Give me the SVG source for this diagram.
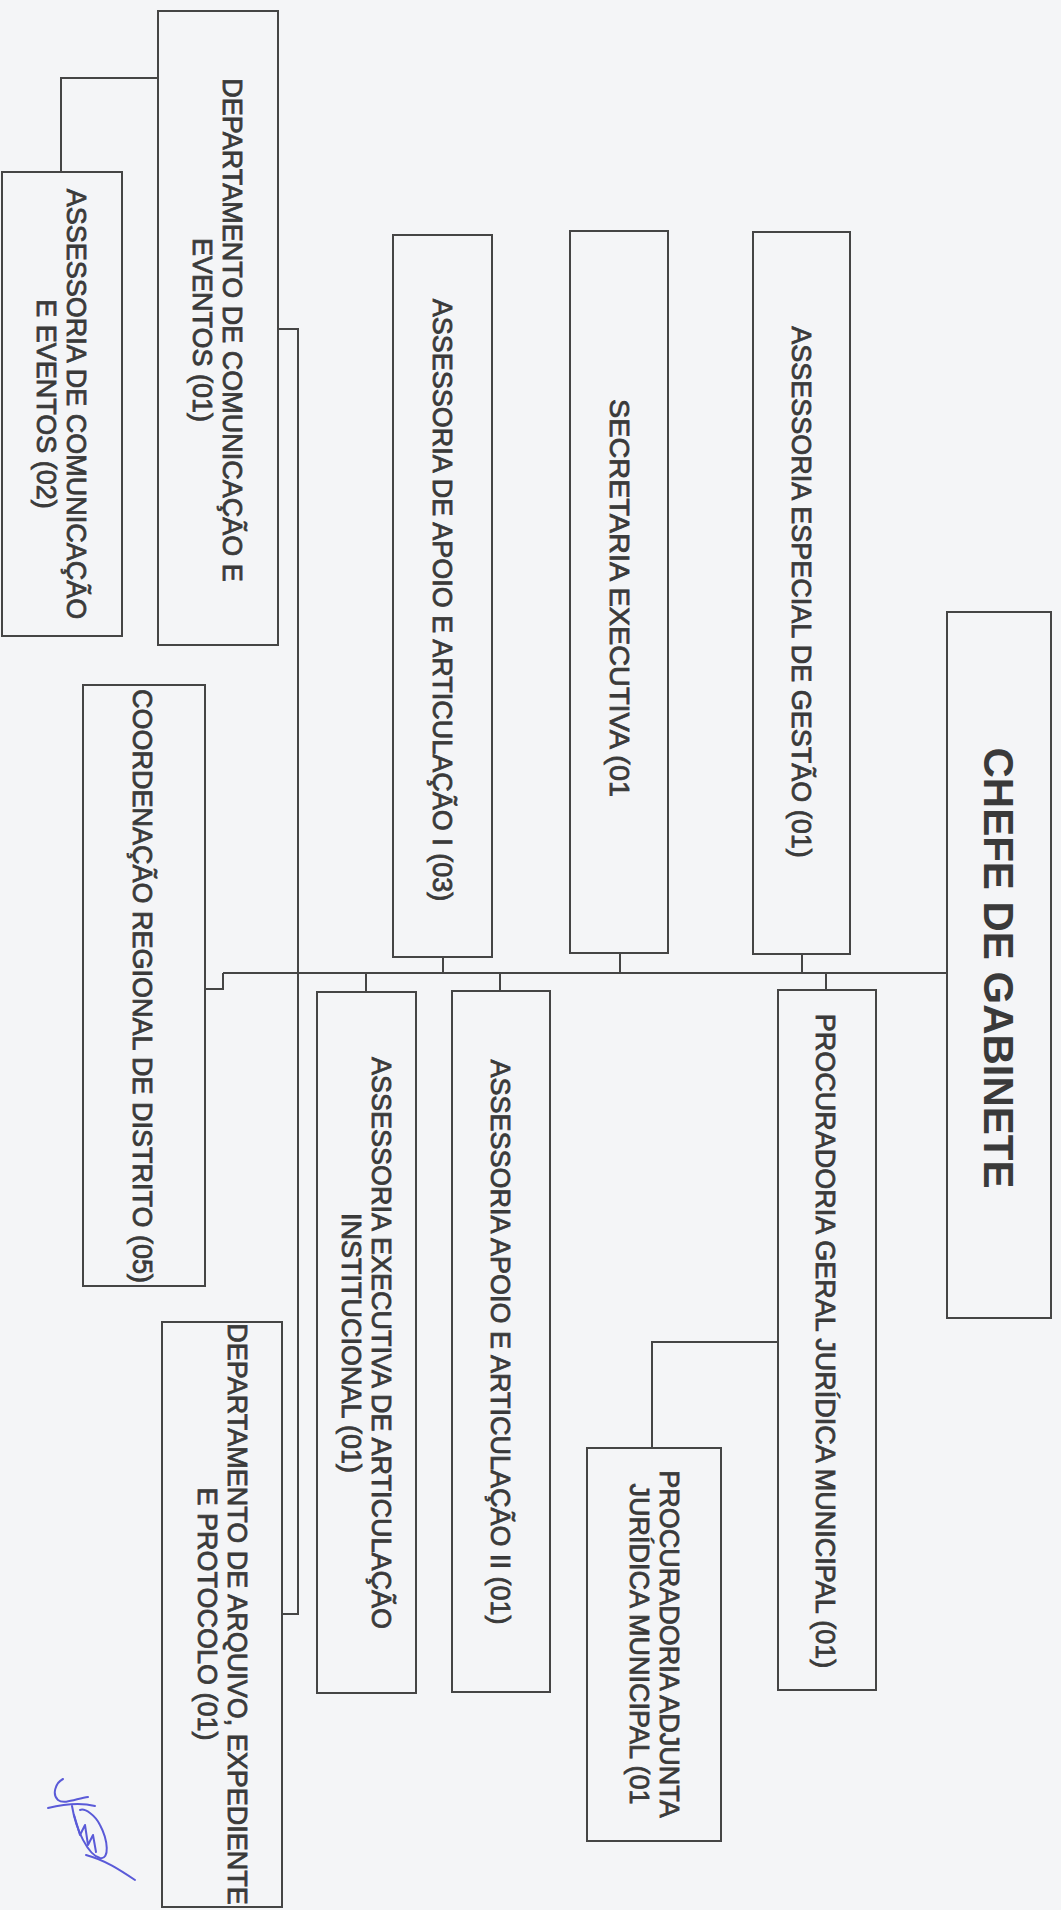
<svg xmlns="http://www.w3.org/2000/svg" width="1061" height="1910" viewBox="0 0 1061 1910">
<style>
.bg{fill:#f4f5f7}
.box{fill:none;stroke:#454545;stroke-width:2}
.con{fill:none;stroke:#454545;stroke-width:2}
.lbl{font-family:"Liberation Sans",Arial,sans-serif;font-size:27px;fill:#3a3a3a;stroke:#3a3a3a;stroke-width:0.8;text-anchor:middle}
.big{font-family:"Liberation Sans",Arial,sans-serif;font-size:42px;font-weight:bold;fill:#3a3a3a;text-anchor:middle}
.sig{fill:none;stroke:#5a5ad8;stroke-width:2;stroke-linecap:round;stroke-linejoin:round}
</style>
<rect class="bg" x="0" y="0" width="1061" height="1910"/>

<g id="connectors">
  <path class="con" d="M223,973 H947"/>
  <path class="con" d="M205,989 H223 V973"/>
  <path class="con" d="M443,957 V973"/>
  <path class="con" d="M620,953 V973"/>
  <path class="con" d="M802,954 V973"/>
  <path class="con" d="M366,973 V992"/>
  <path class="con" d="M500,973 V991"/>
  <path class="con" d="M826,973 V990"/>
  <path class="con" d="M158,78 H61 V172"/>
  <path class="con" d="M278,329 H298 V1614 H282"/>
  <path class="con" d="M652,1448 V1342 H778"/>
</g>

<g id="chefe-de-gabinete">
  <rect class="box" x="947" y="612" width="104" height="706"/>
  <text class="big" transform="translate(999,968) rotate(90)" x="0" y="15">CHEFE DE GABINETE</text>
</g>

<g id="assessoria-especial-gestao">
  <rect class="box" x="753" y="232" width="97" height="722"/>
  <text class="lbl" transform="translate(802,592) rotate(90)" x="0" y="10">ASSESSORIA ESPECIAL DE GESTÃO (01)</text>
</g>

<g id="secretaria-executiva">
  <rect class="box" x="570" y="231" width="98" height="722"/>
  <text class="lbl" transform="translate(620,598) rotate(90)" x="0" y="10" textLength="398" lengthAdjust="spacingAndGlyphs">SECRETARIA EXECUTIVA (01</text>
</g>

<g id="assessoria-apoio-1">
  <rect class="box" x="393" y="235" width="99" height="722"/>
  <text class="lbl" transform="translate(443,600) rotate(90)" x="0" y="10">ASSESSORIA DE APOIO E ARTICULAÇÃO I (03)</text>
</g>

<g id="departamento-comunicacao">
  <rect class="box" x="158" y="11" width="120" height="634"/>
  <text class="lbl" transform="translate(218,330) rotate(90)" x="0" y="-5">DEPARTAMENTO DE COMUNICAÇÃO E</text>
  <text class="lbl" transform="translate(218,330) rotate(90)" x="0" y="25">EVENTOS (01)</text>
</g>

<g id="assessoria-comunicacao">
  <rect class="box" x="2" y="172" width="120" height="464"/>
  <text class="lbl" transform="translate(62,404) rotate(90)" x="0" y="-5">ASSESSORIA DE COMUNICAÇÃO</text>
  <text class="lbl" transform="translate(62,404) rotate(90)" x="0" y="25">E EVENTOS (02)</text>
</g>

<g id="coordenacao-regional">
  <rect class="box" x="83" y="685" width="122" height="601"/>
  <text class="lbl" transform="translate(143,986) rotate(90)" x="0" y="10">COORDENAÇÃO REGIONAL DE DISTRITO (05)</text>
</g>

<g id="departamento-arquivo">
  <rect class="box" x="162" y="1322" width="120" height="585"/>
  <text class="lbl" transform="translate(223,1614) rotate(90)" x="0" y="-5">DEPARTAMENTO DE ARQUIVO, EXPEDIENTE</text>
  <text class="lbl" transform="translate(223,1614) rotate(90)" x="0" y="25">E PROTOCOLO (01)</text>
</g>

<g id="assessoria-executiva">
  <rect class="box" x="317" y="992" width="99" height="701"/>
  <text class="lbl" transform="translate(367,1343) rotate(90)" x="0" y="-5">ASSESSORIA EXECUTIVA DE ARTICULAÇÃO</text>
  <text class="lbl" transform="translate(367,1343) rotate(90)" x="0" y="25">INSTITUCIONAL (01)</text>
</g>

<g id="assessoria-apoio-2">
  <rect class="box" x="452" y="991" width="98" height="701"/>
  <text class="lbl" transform="translate(501,1342) rotate(90)" x="0" y="10">ASSESSORIA APOIO E ARTICULAÇÃO II (01)</text>
</g>

<g id="procuradoria-geral">
  <rect class="box" x="778" y="990" width="98" height="700"/>
  <text class="lbl" transform="translate(826,1341) rotate(90)" x="0" y="10">PROCURADORIA GERAL JURÍDICA MUNICIPAL (01)</text>
</g>

<g id="procuradoria-adjunta">
  <rect class="box" x="587" y="1448" width="134" height="393"/>
  <text class="lbl" transform="translate(655,1644) rotate(90)" x="0" y="-5">PROCURADORIA ADJUNTA</text>
  <text class="lbl" transform="translate(655,1644) rotate(90)" x="0" y="25">JURÍDICA MUNICIPAL (01</text>
</g>

<g id="signature">
  <path class="sig" d="M63,1779 C55,1783 52,1795 58,1800 C64,1805 78,1798 88,1797"/>
  <path class="sig" d="M48,1808 C60,1805 80,1802 95,1806"/>
  <path class="sig" d="M72,1806 C76,1830 88,1855 100,1858 C110,1860 108,1840 100,1825 C95,1815 85,1808 80,1810"/>
  <path class="sig" d="M74,1815 L80,1835 L85,1825 L88,1845 L93,1835 L96,1852"/>
  <path class="sig" d="M86,1855 C105,1860 120,1870 135,1880"/>
</g>
</svg>
